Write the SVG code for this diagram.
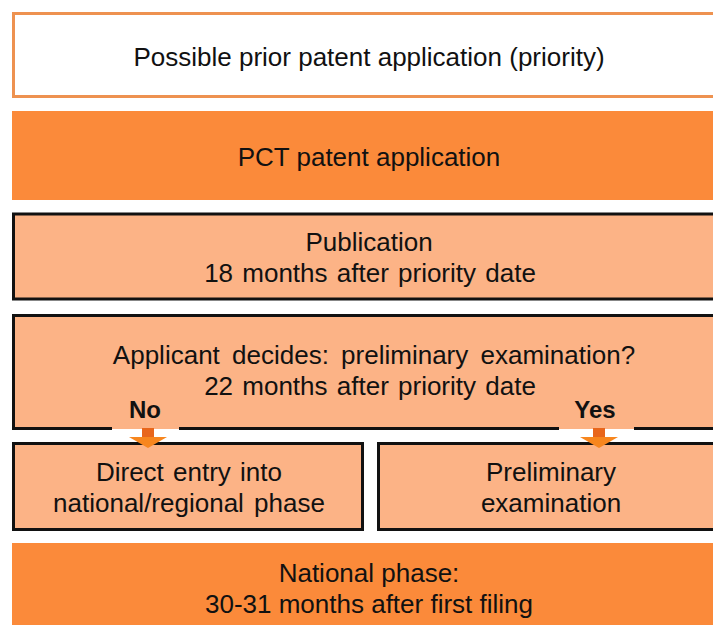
<svg xmlns="http://www.w3.org/2000/svg" width="713" height="625" viewBox="0 0 713 625">
<style>
text{font-family:"Liberation Sans",Arial,sans-serif;font-size:26px;fill:#111;text-anchor:middle}
.lbl{font-weight:bold;font-size:24px}
.dark{fill:#FB8A3A}
.light{fill:#FCB386;stroke:#111;stroke-width:3}
.shaft{fill:#E8661C}
.head{fill:#F7861E}
</style>
<rect width="713" height="625" fill="#fff"/>
<g id="prior">
<rect x="13.5" y="13.5" width="720" height="83" fill="#fff" stroke="#EE9250" stroke-width="3"/>
<text x="369" y="66">Possible prior patent application (priority)</text>
</g>
<g id="pct">
<rect x="12" y="111" width="720" height="89" class="dark"/>
<text x="369" y="166">PCT patent application</text>
</g>
<g id="publication">
<rect x="13.5" y="214" width="720" height="85" class="light"/>
<text x="369" y="251">Publication</text>
<text x="370" y="282" word-spacing="2">18 months after priority date</text>
</g>
<g id="decision">
<rect x="12" y="314" width="720" height="115" fill="#FCB386"/>
<path d="M720 315.5H13.5V428.5H112M179 428.5H559M634 428.5H720" fill="none" stroke="#111" stroke-width="3"/>
<text x="374" y="364" word-spacing="5">Applicant decides: preliminary examination?</text>
<text x="370" y="395" word-spacing="2">22 months after priority date</text>
</g>
<g id="direct">
<rect x="13.5" y="443.5" width="349" height="86" class="light"/>
<text x="189" y="481" word-spacing="2">Direct entry into</text>
<text x="189" y="512" word-spacing="3">national/regional phase</text>
</g>
<g id="prelim">
<rect x="378.5" y="443.5" width="360" height="86" class="light"/>
<text x="551" y="481">Preliminary</text>
<text x="551" y="512">examination</text>
</g>
<g id="national">
<rect x="12" y="543" width="720" height="90" class="dark"/>
<text x="369" y="582">National phase:</text>
<text x="369" y="613">30-31 months after first filing</text>
</g>
<g id="connectors">
<text class="lbl" x="145" y="418">No</text>
<rect class="shaft" x="142" y="428" width="12" height="10"/>
<polygon class="head" points="129,437 167,437 148,448"/>
<text class="lbl" x="595" y="418">Yes</text>
<rect class="shaft" x="593" y="428" width="12" height="10"/>
<polygon class="head" points="580,437 618,437 599,448"/>
</g>
</svg>
